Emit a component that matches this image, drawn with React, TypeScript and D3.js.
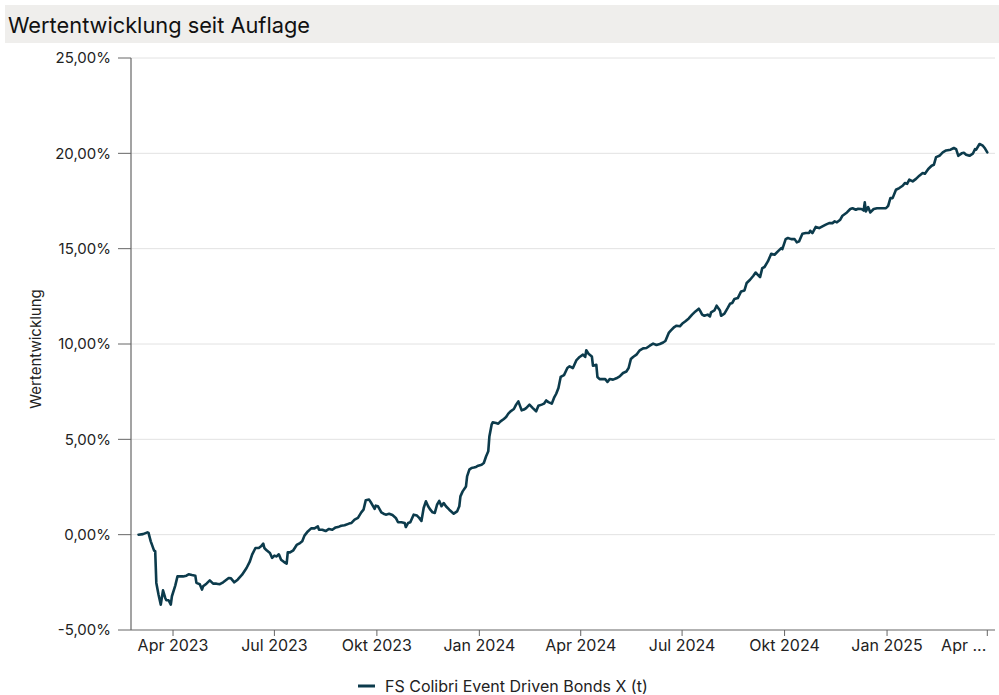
import React from "react";
import * as d3 from "d3";

const seriesName = "FS Colibri Event Driven Bonds X (t)";
const title = "Wertentwicklung seit Auflage";
const yAxisTitle = "Wertentwicklung";

const dates: string[] = [
  "2023-03-01","2023-03-05","2023-03-09","2023-03-10","2023-03-12","2023-03-15","2023-03-16","2023-03-17","2023-03-19","2023-03-21",
  "2023-03-23","2023-03-25","2023-03-26","2023-03-28","2023-03-30","2023-03-31","2023-04-03","2023-04-05","2023-04-10","2023-04-13",
  "2023-04-15","2023-04-18","2023-04-21","2023-04-22","2023-04-25","2023-04-27","2023-04-28","2023-05-01","2023-05-04","2023-05-07",
  "2023-05-10","2023-05-13","2023-05-16","2023-05-21","2023-05-23","2023-05-26","2023-05-29","2023-06-02","2023-06-06","2023-06-09",
  "2023-06-11","2023-06-14","2023-06-17","2023-06-19","2023-06-21","2023-06-22","2023-06-24","2023-06-27","2023-06-29","2023-07-01",
  "2023-07-03","2023-07-05","2023-07-07","2023-07-10","2023-07-12","2023-07-13","2023-07-15","2023-07-18","2023-07-21","2023-07-24",
  "2023-07-26","2023-07-28","2023-07-31","2023-08-03","2023-08-06","2023-08-09","2023-08-10","2023-08-13","2023-08-16","2023-08-19",
  "2023-08-22","2023-08-25","2023-08-28","2023-08-30","2023-09-02","2023-09-06","2023-09-08","2023-09-11","2023-09-14","2023-09-17",
  "2023-09-19","2023-09-21","2023-09-24","2023-09-26","2023-09-29","2023-09-30","2023-10-02","2023-10-05","2023-10-07","2023-10-09",
  "2023-10-12","2023-10-15","2023-10-18","2023-10-20","2023-10-23","2023-10-26","2023-10-27","2023-10-29","2023-10-31","2023-11-03",
  "2023-11-06","2023-11-08","2023-11-10","2023-11-12","2023-11-14","2023-11-16","2023-11-18","2023-11-20","2023-11-22","2023-11-24",
  "2023-11-26","2023-11-28","2023-11-30","2023-12-02","2023-12-05","2023-12-09","2023-12-12","2023-12-14","2023-12-15","2023-12-17",
  "2023-12-20","2023-12-21","2023-12-23","2023-12-25","2023-12-27","2023-12-29","2023-12-31","2024-01-03","2024-01-05","2024-01-07",
  "2024-01-09","2024-01-10","2024-01-12","2024-01-13","2024-01-16","2024-01-18","2024-01-20","2024-01-23","2024-01-25","2024-01-27",
  "2024-01-29","2024-02-01","2024-02-03","2024-02-05","2024-02-08","2024-02-10","2024-02-12","2024-02-15","2024-02-18","2024-02-21",
  "2024-02-23","2024-02-26","2024-02-28","2024-03-01","2024-03-03","2024-03-06","2024-03-08","2024-03-10","2024-03-12","2024-03-14",
  "2024-03-17","2024-03-20","2024-03-22","2024-03-25","2024-03-28","2024-03-31","2024-04-03","2024-04-05","2024-04-06","2024-04-08",
  "2024-04-11","2024-04-12","2024-04-15","2024-04-16","2024-04-18","2024-04-21","2024-04-23","2024-04-25","2024-04-27","2024-04-30",
  "2024-05-03","2024-05-06","2024-05-09","2024-05-12","2024-05-14","2024-05-16","2024-05-18","2024-05-21","2024-05-24","2024-05-27",
  "2024-05-30","2024-06-02","2024-06-05","2024-06-08","2024-06-11","2024-06-14","2024-06-16","2024-06-19","2024-06-21","2024-06-24",
  "2024-06-26","2024-06-29","2024-07-01","2024-07-04","2024-07-07","2024-07-10","2024-07-13","2024-07-16","2024-07-17","2024-07-19",
  "2024-07-21","2024-07-24","2024-07-26","2024-07-27","2024-07-30","2024-08-01","2024-08-04","2024-08-05","2024-08-08","2024-08-11",
  "2024-08-13","2024-08-15","2024-08-17","2024-08-20","2024-08-23","2024-08-26","2024-08-28","2024-08-31","2024-09-03","2024-09-05",
  "2024-09-07","2024-09-09","2024-09-11","2024-09-13","2024-09-16","2024-09-19","2024-09-22","2024-09-25","2024-09-28","2024-09-29",
  "2024-10-02","2024-10-04","2024-10-07","2024-10-10","2024-10-12","2024-10-14","2024-10-17","2024-10-20","2024-10-23","2024-10-24",
  "2024-10-26","2024-10-29","2024-11-01","2024-11-04","2024-11-07","2024-11-10","2024-11-13","2024-11-15","2024-11-17","2024-11-20",
  "2024-11-22","2024-11-26","2024-11-29","2024-12-01","2024-12-04","2024-12-06","2024-12-09","2024-12-11","2024-12-12","2024-12-13",
  "2024-12-15","2024-12-17","2024-12-20","2024-12-23","2024-12-27","2024-12-31","2025-01-02","2025-01-04","2025-01-06","2025-01-09",
  "2025-01-12","2025-01-15","2025-01-17","2025-01-19","2025-01-21","2025-01-24","2025-01-27","2025-01-30","2025-02-02","2025-02-04",
  "2025-02-07","2025-02-10","2025-02-12","2025-02-14","2025-02-17","2025-02-20","2025-02-23","2025-02-27","2025-03-02","2025-03-04",
  "2025-03-06","2025-03-09","2025-03-11","2025-03-13","2025-03-16","2025-03-19","2025-03-21","2025-03-22","2025-03-25","2025-03-28",
  "2025-03-30","2025-04-01"
];

const values: number[] = [
  0.00,0.03,0.12,0.09,-0.35,-0.84,-0.87,-2.53,-3.15,-3.67,
  -2.92,-3.32,-3.44,-3.44,-3.67,-3.23,-2.67,-2.19,-2.19,-2.15,
  -2.08,-2.12,-2.15,-2.53,-2.60,-2.88,-2.71,-2.57,-2.40,-2.57,
  -2.57,-2.60,-2.50,-2.27,-2.29,-2.50,-2.36,-2.10,-1.75,-1.40,
  -1.05,-0.70,-0.70,-0.61,-0.47,-0.70,-0.82,-0.96,-1.22,-1.10,
  -1.14,-1.03,-1.31,-1.45,-1.52,-0.93,-0.93,-0.82,-0.54,-0.44,
  -0.35,-0.05,0.17,0.33,0.33,0.44,0.26,0.26,0.19,0.30,
  0.26,0.38,0.42,0.47,0.49,0.58,0.61,0.79,0.88,1.17,
  1.31,1.80,1.84,1.66,1.35,1.52,1.49,1.17,1.10,1.05,
  1.10,1.03,0.88,0.65,0.65,0.61,0.40,0.61,0.65,1.05,
  1.00,0.88,0.72,1.40,1.75,1.49,1.31,1.17,1.14,1.57,
  1.77,1.49,1.66,1.49,1.31,1.10,1.22,1.49,2.01,2.27,
  2.53,3.06,3.41,3.50,3.52,3.55,3.62,3.67,3.76,4.10,
  4.37,5.15,5.77,5.89,5.86,5.82,5.94,6.07,6.17,6.35,
  6.47,6.59,6.82,6.99,6.52,6.56,6.64,6.82,6.64,6.47,
  6.76,6.82,6.87,7.04,6.95,6.87,7.17,7.39,7.69,8.27,
  8.37,8.74,8.83,8.74,9.14,9.32,9.44,9.32,9.67,9.49,
  9.35,8.86,8.91,8.27,8.16,8.16,8.16,8.01,8.16,8.13,
  8.20,8.30,8.48,8.56,8.74,9.21,9.32,9.44,9.67,9.77,
  9.79,9.91,10.02,9.95,10.00,10.08,10.16,10.58,10.71,10.89,
  10.96,10.93,11.06,11.19,11.34,11.54,11.71,11.85,11.76,11.54,
  11.48,11.54,11.45,11.66,11.76,12.01,11.76,11.48,11.59,11.89,
  12.11,12.15,12.36,12.41,12.76,12.81,13.20,13.37,13.58,13.75,
  13.63,13.51,13.98,14.04,14.33,14.73,14.68,14.86,15.03,14.98,
  15.50,15.56,15.50,15.50,15.33,15.38,15.78,15.82,15.82,15.94,
  15.82,16.14,16.08,16.17,16.26,16.34,16.34,16.43,16.38,16.52,
  16.73,16.90,17.08,17.12,17.04,17.09,17.08,17.00,17.43,16.95,
  17.18,16.90,17.08,17.12,17.12,17.12,17.25,17.65,17.65,18.09,
  18.18,18.30,18.44,18.40,18.62,18.53,18.66,18.83,18.97,18.93,
  19.18,19.35,19.40,19.80,19.87,20.05,20.15,20.19,20.28,20.22,
  19.87,20.00,20.03,19.93,19.87,19.98,20.22,20.19,20.49,20.40,
  20.25,20.05
];

const yTicks: number[] = [-5, 0, 5, 10, 15, 20, 25];
const xTickDates: string[] = ["2023-04-01","2023-07-01","2023-10-01","2024-01-01","2024-04-01","2024-07-01","2024-10-01","2025-01-01","2025-04-01"];
const xTickLabels: string[] = ["Apr 2023","Jul 2023","Okt 2023","Jan 2024","Apr 2024","Jul 2024","Okt 2024","Jan 2025","Apr ..."];
const xDomain: string[] = ["2023-03-01", "2025-04-01"];

const W = 999;
const H = 695;
const FONT = "Inter, 'Noto Sans', sans-serif";
const LINE = "#0c3b4c";

export default function App() {
  const parse = d3.utcParse("%Y-%m-%d");
  const plotLeft = 131;
  const plotRight = 995;
  const x = d3.scaleUtc()
    .domain([parse(xDomain[0])!, parse(xDomain[1])!])
    .range([138.5, 987.3]);
  const y = d3.scaleLinear().domain([-5, 25]).range([630, 58]);

  const data = dates.map((d, i) => ({ date: parse(d)!, value: values[i] }));
  const line = d3.line<{ date: Date; value: number }>()
    .x((d) => x(d.date))
    .y((d) => y(d.value))
    .curve(d3.curveLinear);

  const fmt = (v: number) => v.toFixed(2).replace(".", ",") + "%";
  const lastIdx = xTickDates.length - 1;

  return (
    <div style={{ position: "absolute", left: 0, top: 0 }}>
      <svg width={W} height={H} style={{ display: "block", background: "#fff" }} fontFamily={FONT}>
        <rect x={5} y={5} width={994} height={38} fill="#efeeec" />
        <text x={8} y={33} fontSize={21.8} fill="#111">{title}</text>

        {yTicks.map((t) => (
          <g key={t}>
            {t !== -5 && (
              <line x1={plotLeft} x2={plotRight} y1={y(t)} y2={y(t)} stroke="#e2e2e2" strokeWidth={1} />
            )}
            <line x1={118} x2={plotLeft} y1={y(t)} y2={y(t)} stroke="#666" strokeWidth={1} />
            <text x={111} y={y(t)} dy="0.35em" textAnchor="end" fontSize={15} fill="#222">{fmt(t)}</text>
          </g>
        ))}

        <line x1={plotLeft} x2={plotLeft} y1={58} y2={630} stroke="#666" strokeWidth={1.2} />
        <line x1={plotLeft} x2={plotRight} y1={630} y2={630} stroke="#666" strokeWidth={1.2} />

        {xTickDates.map((d, i) => {
          const xx = x(parse(d)!);
          const isLast = i === lastIdx;
          return (
            <g key={d}>
              <line x1={xx} x2={xx} y1={630} y2={636} stroke="#666" strokeWidth={1} />
              <text x={isLast ? xx - 1 : xx} y={651} textAnchor={isLast ? "end" : "middle"} fontSize={16} fill="#222">{xTickLabels[i]}</text>
            </g>
          );
        })}

        <text transform={`translate(41,349) rotate(-90)`} textAnchor="middle" fontSize={15} fill="#222">{yAxisTitle}</text>

        <path d={line(data) || ""} fill="none" stroke={LINE} strokeWidth={2.6} strokeLinejoin="round" strokeLinecap="round" />

        <line x1={358} x2={375} y1={686} y2={686} stroke={LINE} strokeWidth={3} />
        <text x={385} y={692} fontSize={16} fill="#222">{seriesName}</text>
      </svg>
    </div>
  );
}
